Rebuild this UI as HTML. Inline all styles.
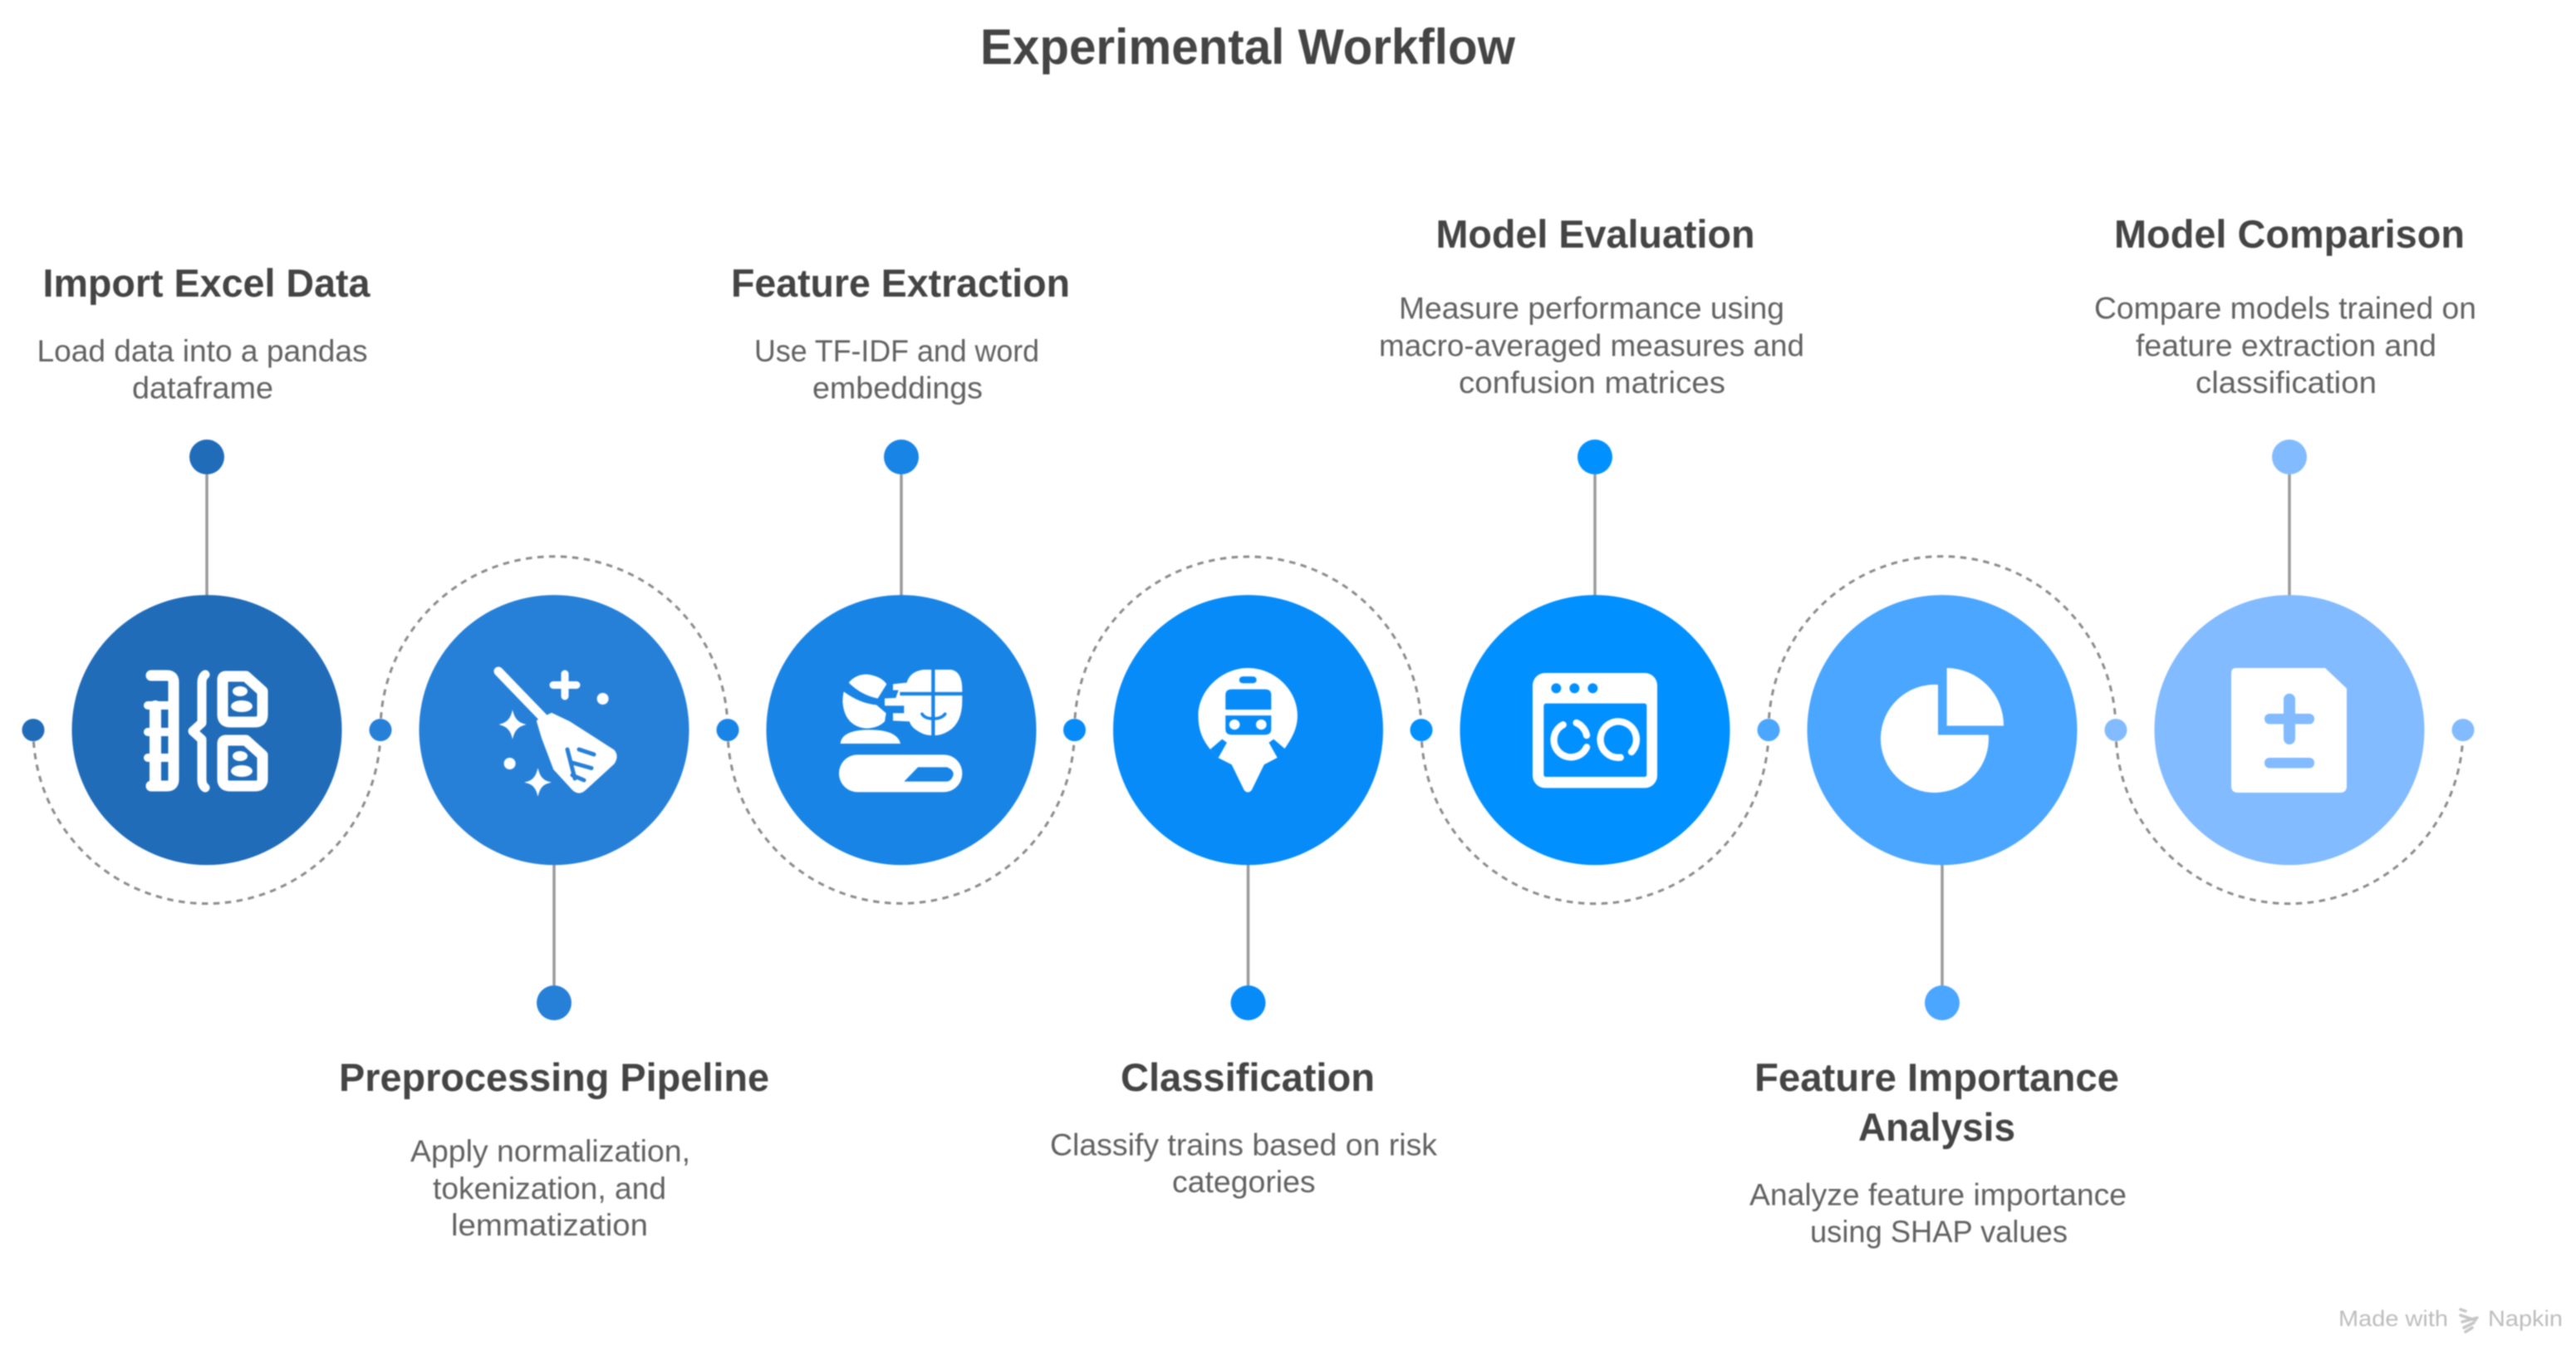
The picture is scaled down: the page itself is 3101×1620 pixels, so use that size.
<!DOCTYPE html>
<html lang="en">
<head>
<meta charset="utf-8">
<title>Experimental Workflow</title>
<style>
html,body{margin:0;padding:0;background:#fff;width:3101px;height:1620px;overflow:hidden}
svg{display:block;filter:blur(.7px)}
text{font-family:"Liberation Sans",sans-serif}
.t{font-size:60px;font-weight:700;fill:#444}
.h{font-size:47px;font-weight:700;fill:#444}
.d{font-size:37px;fill:#626262}
.m{font-size:27px;fill:#bdbdbd}
.arc{fill:none;stroke:#8c8c8c;stroke-width:3;stroke-dasharray:7.5 6.5}
.ln{stroke:#9a9a9a;stroke-width:3.5}
</style>
</head>
<body>
<svg xmlns="http://www.w3.org/2000/svg" width="3101" height="1620" viewBox="0 0 3101 1620">
<rect width="3101" height="1620" fill="#fff"/>

<text class="t" x="1180" y="77" textLength="644" lengthAdjust="spacingAndGlyphs">Experimental Workflow</text>

<!-- dashed arcs (radius auto-scales to a true semicircle) -->
<path class="arc" d="M40 878.6 A200 200 0 0 0 458 878.6"/>
<path class="arc" d="M458 878.6 A200 200 0 0 1 876 878.6"/>
<path class="arc" d="M876 878.6 A200 200 0 0 0 1293.5 878.6"/>
<path class="arc" d="M1293.5 878.6 A200 200 0 0 1 1711 878.6"/>
<path class="arc" d="M1711 878.6 A200 200 0 0 0 2129 878.6"/>
<path class="arc" d="M2129 878.6 A200 200 0 0 1 2547 878.6"/>
<path class="arc" d="M2547 878.6 A200 200 0 0 0 2965 878.6"/>

<!-- connectors -->
<line class="ln" x1="249" y1="571" x2="249" y2="718"/>
<line class="ln" x1="1085" y1="571" x2="1085" y2="718"/>
<line class="ln" x1="1920" y1="571" x2="1920" y2="718"/>
<line class="ln" x1="2756" y1="571" x2="2756" y2="718"/>
<line class="ln" x1="667" y1="1039" x2="667" y2="1186"/>
<line class="ln" x1="1502.5" y1="1039" x2="1502.5" y2="1186"/>
<line class="ln" x1="2338" y1="1039" x2="2338" y2="1186"/>

<!-- axis dots -->
<circle cx="40" cy="878.6" r="13.5" fill="#206CB9"/>
<circle cx="458" cy="878.6" r="13.5" fill="#2680D8"/>
<circle cx="876" cy="878.6" r="13.5" fill="#1884E6"/>
<circle cx="1293.5" cy="878.6" r="13.5" fill="#068BF8"/>
<circle cx="1711" cy="878.6" r="13.5" fill="#0090FF"/>
<circle cx="2129" cy="878.6" r="13.5" fill="#4BA6FF"/>
<circle cx="2547" cy="878.6" r="13.5" fill="#82BBFF"/>
<circle cx="2965" cy="878.6" r="13.5" fill="#82BBFF"/>

<!-- end dots -->
<circle cx="249" cy="550" r="21" fill="#206CB9"/>
<circle cx="1085" cy="550" r="21" fill="#1884E6"/>
<circle cx="1920" cy="550" r="21" fill="#0090FF"/>
<circle cx="2756" cy="550" r="21" fill="#82BBFF"/>
<circle cx="667" cy="1207" r="21" fill="#2680D8"/>
<circle cx="1502.5" cy="1207" r="21" fill="#068BF8"/>
<circle cx="2338" cy="1207" r="21" fill="#4BA6FF"/>

<!-- main circles -->
<circle cx="249" cy="878.6" r="162.5" fill="#206CB9"/>
<circle cx="667" cy="878.6" r="162.5" fill="#2680D8"/>
<circle cx="1085" cy="878.6" r="162.5" fill="#1884E6"/>
<circle cx="1502.5" cy="878.6" r="162.5" fill="#068BF8"/>
<circle cx="1920" cy="878.6" r="162.5" fill="#0090FF"/>
<circle cx="2338" cy="878.6" r="162.5" fill="#4BA6FF"/>
<circle cx="2756" cy="878.6" r="162.5" fill="#82BBFF"/>

<!-- icon 1 -->
<g fill="none" stroke="#fff" stroke-linecap="round" stroke-linejoin="round">
  <path stroke-width="13" d="M182 813 H201 Q209 813 209 821 V938 Q209 946 201 946 H182"/>
  <path stroke-width="14" d="M187 850 V945"/>
  <path stroke-width="10" d="M178 849 H208 M178 881 H208 M178 912 H208"/>
  <path stroke-width="11" d="M247 812 Q243 815 243 822 V870 L232 880 L243 890 V938 Q243 945 247 948"/>
  <path stroke-width="13" d="M272 814 H296 L316 832 V860 Q316 869 307 869 H277 Q268 869 268 860 V818 Q268 814 272 814Z"/>
  <path stroke-width="13" d="M272 891 H296 L316 909 V938 Q316 946 307 946 H277 Q268 946 268 938 V895 Q268 891 272 891Z"/>
</g>
<g fill="#fff">
  <ellipse cx="289" cy="832" rx="9" ry="6"/><ellipse cx="291" cy="850" rx="13" ry="7"/>
  <ellipse cx="289" cy="910" rx="9" ry="6"/><ellipse cx="291" cy="928" rx="13" ry="7"/>
</g>

<!-- icon 2 broom -->
<g>
  <path d="M600 808 L655 865" stroke="#fff" stroke-width="11" stroke-linecap="round"/>
  <path d="M648 868 L664 860 L685 870 L738 904 Q743 910 738 918 L703 950 Q697 955 691 950 L668 925 L654 888 Z" fill="#fff" stroke="#fff" stroke-width="4" stroke-linejoin="round"/>
  <path d="M697 902 L715 908 M689 918 L712 924.5 M689 933 L703 939 M683 902 L692 937" fill="none" stroke="#2680D8" stroke-width="5" stroke-linecap="round"/>
  <path d="M680 811 V838 M666 824.5 H694" stroke="#fff" stroke-width="9" stroke-linecap="round"/>
  <circle cx="725.6" cy="841" r="7" fill="#fff"/>
  <circle cx="613.6" cy="919" r="7" fill="#fff"/>
  <path d="M617 858 Q620 869 630 872 Q620 875 617 886 Q614 875 604 872 Q614 869 617 858Z" fill="#fff" stroke="#fff" stroke-width="2"/>
  <path d="M647.5 928 Q650.5 939 660 941.6 Q650.5 944 647.5 955 Q644.5 944 635 941.6 Q644.5 939 647.5 928Z" fill="#fff" stroke="#fff" stroke-width="2"/>
</g>

<!-- icon 3 -->
<g transform="translate(985,780) scale(.33333)">
  <rect x="75" y="385" width="445" height="135" rx="67" fill="#fff"/>
  <path d="M310 482 L360 430 H465 Q490 440 488 458 Q482 480 465 482 Z" fill="#1884E6"/>
  <path d="M80 345 Q85 295 185 295 Q285 295 297 345 Z" fill="#fff"/>
  <path d="M110 125 Q135 95 175 95 Q225 100 247 130 L215 182 Q155 170 110 125Z" fill="#fff"/>
  <path d="M92 157 Q150 200 210 205 L245 235 L240 265 Q215 290 170 290 Q95 280 88 195 Q88 175 92 157Z" fill="#fff"/>
  <path d="M270 130 L320 125 Q330 85 380 78 L480 78 Q520 85 520 150 V190 Q520 270 470 300 Q430 325 380 310 Q335 290 330 265 L270 262 V235 L310 235 V208 L240 208 V182 L280 180 L290 152 L270 152 Z" fill="#fff"/>
  <path d="M415 65 V330 M295 165 H530" stroke="#1884E6" stroke-width="13" fill="none"/>
  <path d="M375 238 Q385 255 415 255 Q445 255 458 238" fill="none" stroke="#1884E6" stroke-width="11" stroke-linecap="round"/>
</g>

<!-- icon 4 -->
<g transform="translate(880,500) scale(.574,.408)">
  <path d="M1005 985 C985 950 980 920 980 885 C980 810 1030 745 1084 745 C1140 745 1188 810 1188 885 C1188 925 1175 955 1160 985 L1145 1010 L1118 1030 L1092 1105 Q1084 1118 1076 1105 L1050 1030 L1022 1010 Z" fill="#fff"/>
  <path d="M1030 955 L1040 965 L1022 1010 L1005 985 Z" fill="#068BF8"/>
  <path d="M1138 955 L1128 965 L1146 1010 L1163 985 Z" fill="#068BF8"/>
  <rect x="1066" y="770" width="36" height="20" rx="8" fill="#068BF8"/>
  <path d="M1037 868 V825 Q1037 808 1050 808 H1120 Q1133 808 1133 825 V868 Z" fill="#068BF8"/>
  <path d="M1037 885 H1133 V925 Q1133 942 1120 942 H1050 Q1037 942 1037 925 Z" fill="#068BF8"/>
  <ellipse cx="1056" cy="912" rx="11" ry="15" fill="#fff"/>
  <ellipse cx="1112" cy="912" rx="11" ry="15" fill="#fff"/>
</g>

<!-- icon 5 -->
<g transform="translate(1820,780) scale(.33333)">
  <rect x="75" y="90" width="450" height="415" rx="45" fill="#fff"/>
  <rect x="115" y="200" width="372" height="265" rx="8" fill="#0090FF"/>
  <circle cx="160" cy="145" r="18" fill="#0090FF"/>
  <circle cx="226" cy="145" r="18" fill="#0090FF"/>
  <circle cx="292" cy="145" r="18" fill="#0090FF"/>
  <g fill="none" stroke="#fff" stroke-width="25" stroke-linecap="round">
    <path d="M185 277 A62 62 0 1 0 270 358"/>
    <path d="M233 270 A62 62 0 0 1 270 315"/>
    <path d="M432 375 A65 65 0 1 0 392 395"/>
  </g>
</g>

<!-- icon 6 -->
<path d="M2333 884.5 H2393.8 A65 65 0 1 1 2333 824.1 Z" fill="#fff"/>
<path d="M2343.6 873.5 V804 A69 69 0 0 1 2412 873.5 Z" fill="#fff"/>

<!-- icon 7 -->
<path d="M2692 804 H2799 L2825 828.6 V946 Q2825 954 2817 954 H2694 Q2686 954 2686 946 V810 Q2686 804 2692 804Z" fill="#fff"/>
<rect x="2749" y="834.7" width="14" height="61.3" rx="7" fill="#82BBFF"/>
<rect x="2726" y="859" width="60" height="12.5" rx="6" fill="#82BBFF"/>
<rect x="2726" y="912" width="60" height="12.5" rx="6" fill="#82BBFF"/>

<!-- top labels -->
<text class="h" x="51.5" y="357" textLength="394" lengthAdjust="spacingAndGlyphs">Import Excel Data</text>
<text class="d" x="44.5" y="435" textLength="398" lengthAdjust="spacingAndGlyphs">Load data into a pandas</text>
<text class="d" x="159" y="479.5" textLength="170" lengthAdjust="spacingAndGlyphs">dataframe</text>

<text class="h" x="880" y="357" textLength="408" lengthAdjust="spacingAndGlyphs">Feature Extraction</text>
<text class="d" x="908" y="435" textLength="343" lengthAdjust="spacingAndGlyphs">Use TF-IDF and word</text>
<text class="d" x="978" y="479.5" textLength="205" lengthAdjust="spacingAndGlyphs">embeddings</text>

<text class="h" x="1728.5" y="298" textLength="384" lengthAdjust="spacingAndGlyphs">Model Evaluation</text>
<text class="d" x="1684" y="383.5" textLength="464" lengthAdjust="spacingAndGlyphs">Measure performance using</text>
<text class="d" x="1660" y="428.5" textLength="512" lengthAdjust="spacingAndGlyphs">macro-averaged measures and</text>
<text class="d" x="1756" y="473" textLength="321" lengthAdjust="spacingAndGlyphs">confusion matrices</text>

<text class="h" x="2545" y="298" textLength="422" lengthAdjust="spacingAndGlyphs">Model Comparison</text>
<text class="d" x="2521" y="383.5" textLength="460" lengthAdjust="spacingAndGlyphs">Compare models trained on</text>
<text class="d" x="2571" y="428.5" textLength="362" lengthAdjust="spacingAndGlyphs">feature extraction and</text>
<text class="d" x="2643" y="473" textLength="218" lengthAdjust="spacingAndGlyphs">classification</text>

<!-- bottom labels -->
<text class="h" x="408" y="1313" textLength="518" lengthAdjust="spacingAndGlyphs">Preprocessing Pipeline</text>
<text class="d" x="494" y="1398" textLength="337" lengthAdjust="spacingAndGlyphs">Apply normalization,</text>
<text class="d" x="521" y="1443" textLength="281" lengthAdjust="spacingAndGlyphs">tokenization, and</text>
<text class="d" x="543" y="1487" textLength="237" lengthAdjust="spacingAndGlyphs">lemmatization</text>

<text class="h" x="1349" y="1313" textLength="306" lengthAdjust="spacingAndGlyphs">Classification</text>
<text class="d" x="1264" y="1390.5" textLength="466" lengthAdjust="spacingAndGlyphs">Classify trains based on risk</text>
<text class="d" x="1411" y="1435" textLength="172.6" lengthAdjust="spacingAndGlyphs">categories</text>

<text class="h" x="2112" y="1313" textLength="439" lengthAdjust="spacingAndGlyphs">Feature Importance</text>
<text class="h" x="2237" y="1373" textLength="189" lengthAdjust="spacingAndGlyphs">Analysis</text>
<text class="d" x="2106" y="1450.7" textLength="454" lengthAdjust="spacingAndGlyphs">Analyze feature importance</text>
<text class="d" x="2179" y="1495" textLength="310" lengthAdjust="spacingAndGlyphs">using SHAP values</text>

<!-- watermark -->
<text class="m" x="2815" y="1596" textLength="132" lengthAdjust="spacingAndGlyphs">Made with</text>
<path d="M2962 1576 L2968 1578 M2962 1583 L2980 1589 M2964 1591 L2982 1586 M2966 1598 L2978 1592 M2968 1603 L2976 1598" stroke="#c6c6c6" stroke-width="3.5" fill="none" stroke-linecap="round"/>
<text class="m" x="2995" y="1596" textLength="90" lengthAdjust="spacingAndGlyphs">Napkin</text>
</svg>
</body>
</html>
